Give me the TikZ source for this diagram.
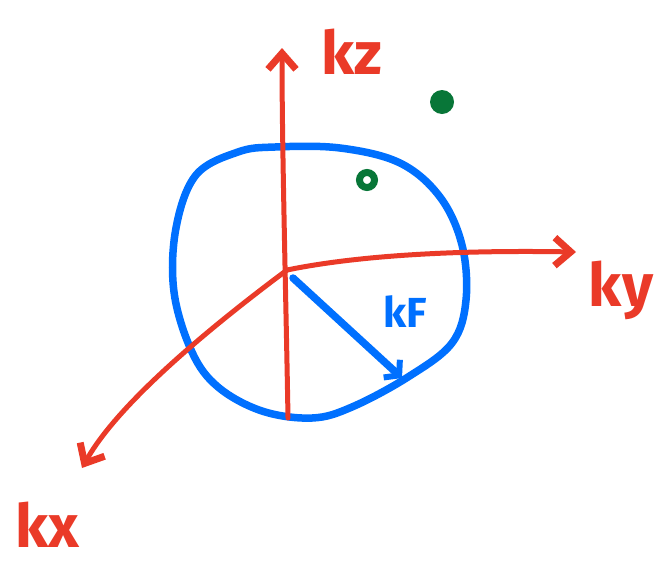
\documentclass[tikz,border=0pt]{standalone}
\usepackage{fontspec}
\setmainfont{Fira Sans}
\usetikzlibrary{arrows.meta}
\definecolor{axred}{RGB}{234,58,40}
\definecolor{fsblue}{RGB}{0,112,255}
\definecolor{ptgreen}{RGB}{8,118,56}
\tikzset{
  axis/.style={draw=axred, line width=5pt, line cap=round, line join=round,
    -{Straight Barb[length=16pt,width=28pt,line width=7pt]}},
  axlabel/.style={text=axred, font=\fontsize{60}{62}\selectfont\bfseries, inner sep=0pt},
  fermi/.style={draw=fsblue, line width=7.5pt, line cap=round, line join=round},
  kflabel/.style={text=fsblue, font=\fontsize{42}{44}\selectfont\bfseries, inner sep=0pt},
}
\begin{document}
\begin{tikzpicture}[x=1pt,y=-1pt]
\useasboundingbox (0,0) rectangle (660,568);
\coordinate (O) at (287,270);
\coordinate (zbot) at (288,418);
\coordinate (ztop) at (282,48);
\coordinate (ytip) at (576,252);
\coordinate (xtip) at (82,468);
\coordinate (kfs) at (293,278);
\coordinate (kfe) at (402,378);
% Fermi sphere
\draw[fermi] plot[smooth cycle, tension=0.6] coordinates {
  (275,147) (340,148) (400,163) (440,197) (462,245) (466,300) (452,343)
  (408,377) (352,407) (312,418) (262,411) (218,387) (192,352) (174,292)
  (176,228) (196,175) (238,152)};
% axes
\draw[axis] (zbot) .. controls (286,300) and (282,150) .. (ztop);
\draw[axis] (O) .. controls (360,255) and (460,250) .. (ytip);
\draw[axis] (O) .. controls (220,320) and (120,400) .. (xtip);
% k_F arrow
\draw[fermi, -{Straight Barb[length=10pt,width=24pt,line width=6pt]}] (kfs) -- (kfe);
% labels
\node[axlabel] (lz) at (352,52) {kz};
\node[axlabel] (ly) at (621,290) {ky};
\node[axlabel] (lx) at (47,525) {kx};
\node[kflabel] (lf) at (405,312) {kF};
% points
\fill[ptgreen] (442,102) circle (12);
\draw[ptgreen, line width=7pt] (367,180) circle (7.5);
\end{tikzpicture}
\end{document}
